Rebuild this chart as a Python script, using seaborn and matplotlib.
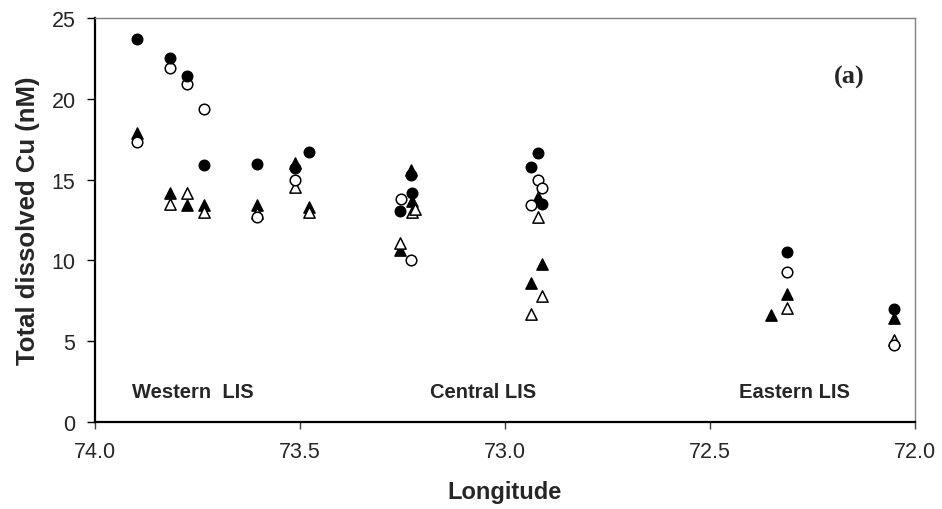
import matplotlib
matplotlib.use("Agg")
import matplotlib.pyplot as plt
import seaborn as sns
import pandas as pd
import numpy as np

# ---- data ----
lon_fc = [73.898, 73.816, 73.776, 73.735, 73.604, 73.512, 73.477, 73.256, 73.228, 73.226, 72.936, 72.919, 72.909, 72.311, 72.050]
cu_fc = [23.7, 22.5, 21.4, 15.9, 15.95, 15.7, 16.7, 13.05, 15.3, 14.2, 15.8, 16.65, 13.5, 10.55, 7.0]

lon_oc = [73.898, 73.816, 73.776, 73.735, 73.604, 73.512, 73.254, 73.228, 72.936, 72.919, 72.909, 72.311, 72.050]
cu_oc = [17.3, 21.9, 20.9, 19.4, 12.7, 14.95, 13.8, 10.0, 13.45, 15.0, 14.45, 9.26, 4.75]

lon_ft = [73.898, 73.816, 73.776, 73.735, 73.604, 73.512, 73.477, 73.256, 73.228, 73.226, 72.936, 72.919, 72.909, 72.350, 72.311, 72.050]
cu_ft = [17.9, 14.2, 13.4, 13.45, 13.45, 16.0, 13.3, 10.65, 15.6, 13.7, 8.6, 13.9, 9.8, 6.6, 7.9, 6.45]

lon_ot = [73.816, 73.776, 73.735, 73.604, 73.512, 73.477, 73.256, 73.226, 73.220, 72.936, 72.919, 72.909, 72.311, 72.050]
cu_ot = [13.5, 14.2, 13.0, 12.95, 14.55, 13.0, 11.1, 13.0, 13.2, 6.7, 12.7, 7.8, 7.05, 5.1]

x_ticks = [74.0, 73.5, 73.0, 72.5, 72.0]
y_ticks = [0, 5, 10, 15, 20, 25]
region_labels = ["Western  LIS", "Central LIS", "Eastern LIS"]
region_lon = [73.91, 73.182, 72.43]

sns.set_style("white")
plt.rcParams['font.family'] = ['Liberation Sans', 'DejaVu Sans']

fig = plt.figure(figsize=(9.42, 5.10), dpi=100)
ax = fig.add_axes([0.1008, 0.1706, 0.8705, 0.7921])

sc = 58
st = 66
sns.scatterplot(x=lon_ft, y=cu_ft, marker='^', s=st, color='black', edgecolor='black', linewidth=1.0, ax=ax, zorder=3)
sns.scatterplot(x=lon_ot, y=cu_ot, marker='^', s=st, facecolor='white', edgecolor='black', linewidth=1.1, ax=ax, zorder=3)
sns.scatterplot(x=lon_oc, y=cu_oc, marker='o', s=sc, facecolor='white', edgecolor='black', linewidth=1.1, ax=ax, zorder=3)
sns.scatterplot(x=lon_fc, y=cu_fc, marker='o', s=sc, color='black', edgecolor='black', linewidth=1.0, ax=ax, zorder=3)

ax.set_xlim(74.0, 72.0)
ax.set_ylim(0, 25)
ax.set_xticks(x_ticks)
ax.set_xticklabels([f"{v:.1f}" for v in x_ticks], fontsize=15.5)
ax.set_yticks(y_ticks)
ax.set_yticklabels([str(v) for v in y_ticks], fontsize=15.5)
ax.tick_params(axis='x', direction='out', length=5, width=1.0, color='#404040', pad=9, bottom=True)
ax.tick_params(axis='y', direction='out', length=6, width=1.0, color='black', pad=8, left=True)

for side in ['left', 'bottom']:
    ax.spines[side].set_color('black')
    ax.spines[side].set_linewidth(1.6)
for side in ['top', 'right']:
    ax.spines[side].set_color('#808080')
    ax.spines[side].set_linewidth(1.0)

ax.set_xlabel("Longitude", fontsize=17, fontweight='bold', labelpad=13)
ax.set_ylabel("Total dissolved Cu (nM)", fontsize=18.5, fontweight='bold', labelpad=8)

for lab, lx in zip(region_labels, region_lon):
    ax.text(lx, 1.9, lab, fontsize=14.5, fontweight='bold', ha='left', va='center')

ax.text(72.161, 21.4, "(a)", fontsize=19, fontweight='bold', ha='center', va='center',
        family=['Liberation Serif', 'DejaVu Serif'])

fig.savefig("out.png", dpi=100)
